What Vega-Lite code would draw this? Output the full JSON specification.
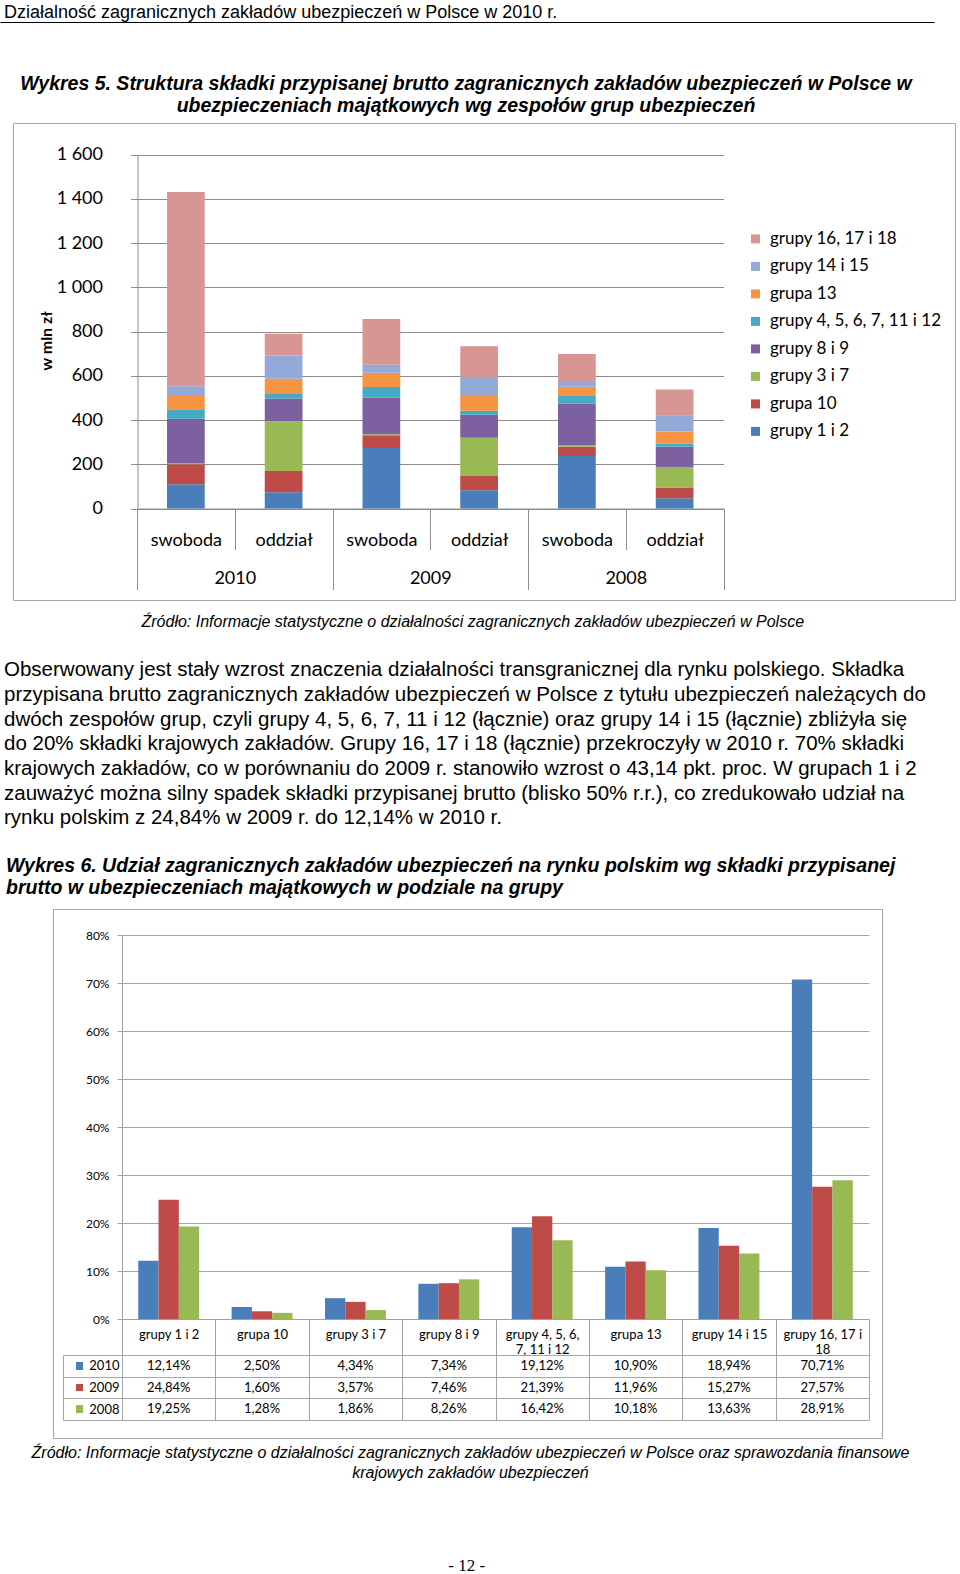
{
  "$schema": "https://vega.github.io/schema/vega-lite/v6.json",
  "padding": {"left": 0, "top": 3, "right": 0, "bottom": 0},
  "background": "white",
  "spacing": 30,
  "config": {
    "locale": {"number": {"decimal": ",", "thousands": " ", "grouping": [3], "currency": ["", " zł"]}},
    "title": {"font": "Liberation Sans", "color": "#000", "fontWeight": "normal"}
  },
  "datasets": {
    "wykres5": [
      {"rok": "2010", "slupek": "swoboda 2010", "grupa": "grupy 1 i 2", "kolejnosc": 1, "wartosc": 110},
      {"rok": "2010", "slupek": "swoboda 2010", "grupa": "grupa 10", "kolejnosc": 2, "wartosc": 90},
      {"rok": "2010", "slupek": "swoboda 2010", "grupa": "grupy 3 i 7", "kolejnosc": 3, "wartosc": 4},
      {"rok": "2010", "slupek": "swoboda 2010", "grupa": "grupy 8 i 9", "kolejnosc": 4, "wartosc": 202},
      {"rok": "2010", "slupek": "swoboda 2010", "grupa": "grupy 4, 5, 6, 7, 11 i 12", "kolejnosc": 5, "wartosc": 43},
      {"rok": "2010", "slupek": "swoboda 2010", "grupa": "grupa 13", "kolejnosc": 6, "wartosc": 60},
      {"rok": "2010", "slupek": "swoboda 2010", "grupa": "grupy 14 i 15", "kolejnosc": 7, "wartosc": 43},
      {"rok": "2010", "slupek": "swoboda 2010", "grupa": "grupy 16, 17 i 18", "kolejnosc": 8, "wartosc": 878},
      {"rok": "2010", "slupek": "oddział 2010", "grupa": "grupy 1 i 2", "kolejnosc": 1, "wartosc": 74},
      {"rok": "2010", "slupek": "oddział 2010", "grupa": "grupa 10", "kolejnosc": 2, "wartosc": 96},
      {"rok": "2010", "slupek": "oddział 2010", "grupa": "grupy 3 i 7", "kolejnosc": 3, "wartosc": 224},
      {"rok": "2010", "slupek": "oddział 2010", "grupa": "grupy 8 i 9", "kolejnosc": 4, "wartosc": 103},
      {"rok": "2010", "slupek": "oddział 2010", "grupa": "grupy 4, 5, 6, 7, 11 i 12", "kolejnosc": 5, "wartosc": 21},
      {"rok": "2010", "slupek": "oddział 2010", "grupa": "grupa 13", "kolejnosc": 6, "wartosc": 69},
      {"rok": "2010", "slupek": "oddział 2010", "grupa": "grupy 14 i 15", "kolejnosc": 7, "wartosc": 104},
      {"rok": "2010", "slupek": "oddział 2010", "grupa": "grupy 16, 17 i 18", "kolejnosc": 8, "wartosc": 99},
      {"rok": "2009", "slupek": "swoboda 2009", "grupa": "grupy 1 i 2", "kolejnosc": 1, "wartosc": 274},
      {"rok": "2009", "slupek": "swoboda 2009", "grupa": "grupa 10", "kolejnosc": 2, "wartosc": 57},
      {"rok": "2009", "slupek": "swoboda 2009", "grupa": "grupy 3 i 7", "kolejnosc": 3, "wartosc": 5},
      {"rok": "2009", "slupek": "swoboda 2009", "grupa": "grupy 8 i 9", "kolejnosc": 4, "wartosc": 165},
      {"rok": "2009", "slupek": "swoboda 2009", "grupa": "grupy 4, 5, 6, 7, 11 i 12", "kolejnosc": 5, "wartosc": 48},
      {"rok": "2009", "slupek": "swoboda 2009", "grupa": "grupa 13", "kolejnosc": 6, "wartosc": 64},
      {"rok": "2009", "slupek": "swoboda 2009", "grupa": "grupy 14 i 15", "kolejnosc": 7, "wartosc": 37},
      {"rok": "2009", "slupek": "swoboda 2009", "grupa": "grupy 16, 17 i 18", "kolejnosc": 8, "wartosc": 206},
      {"rok": "2009", "slupek": "oddział 2009", "grupa": "grupy 1 i 2", "kolejnosc": 1, "wartosc": 83},
      {"rok": "2009", "slupek": "oddział 2009", "grupa": "grupa 10", "kolejnosc": 2, "wartosc": 64},
      {"rok": "2009", "slupek": "oddział 2009", "grupa": "grupy 3 i 7", "kolejnosc": 3, "wartosc": 173},
      {"rok": "2009", "slupek": "oddział 2009", "grupa": "grupy 8 i 9", "kolejnosc": 4, "wartosc": 104},
      {"rok": "2009", "slupek": "oddział 2009", "grupa": "grupy 4, 5, 6, 7, 11 i 12", "kolejnosc": 5, "wartosc": 18},
      {"rok": "2009", "slupek": "oddział 2009", "grupa": "grupa 13", "kolejnosc": 6, "wartosc": 67},
      {"rok": "2009", "slupek": "oddział 2009", "grupa": "grupy 14 i 15", "kolejnosc": 7, "wartosc": 85},
      {"rok": "2009", "slupek": "oddział 2009", "grupa": "grupy 16, 17 i 18", "kolejnosc": 8, "wartosc": 139},
      {"rok": "2008", "slupek": "swoboda 2008", "grupa": "grupy 1 i 2", "kolejnosc": 1, "wartosc": 237},
      {"rok": "2008", "slupek": "swoboda 2008", "grupa": "grupa 10", "kolejnosc": 2, "wartosc": 42},
      {"rok": "2008", "slupek": "swoboda 2008", "grupa": "grupy 3 i 7", "kolejnosc": 3, "wartosc": 6},
      {"rok": "2008", "slupek": "swoboda 2008", "grupa": "grupy 8 i 9", "kolejnosc": 4, "wartosc": 188},
      {"rok": "2008", "slupek": "swoboda 2008", "grupa": "grupy 4, 5, 6, 7, 11 i 12", "kolejnosc": 5, "wartosc": 36},
      {"rok": "2008", "slupek": "swoboda 2008", "grupa": "grupa 13", "kolejnosc": 6, "wartosc": 41},
      {"rok": "2008", "slupek": "swoboda 2008", "grupa": "grupy 14 i 15", "kolejnosc": 7, "wartosc": 22},
      {"rok": "2008", "slupek": "swoboda 2008", "grupa": "grupy 16, 17 i 18", "kolejnosc": 8, "wartosc": 126},
      {"rok": "2008", "slupek": "oddział 2008", "grupa": "grupy 1 i 2", "kolejnosc": 1, "wartosc": 46},
      {"rok": "2008", "slupek": "oddział 2008", "grupa": "grupa 10", "kolejnosc": 2, "wartosc": 49},
      {"rok": "2008", "slupek": "oddział 2008", "grupa": "grupy 3 i 7", "kolejnosc": 3, "wartosc": 93},
      {"rok": "2008", "slupek": "oddział 2008", "grupa": "grupy 8 i 9", "kolejnosc": 4, "wartosc": 91},
      {"rok": "2008", "slupek": "oddział 2008", "grupa": "grupy 4, 5, 6, 7, 11 i 12", "kolejnosc": 5, "wartosc": 15},
      {"rok": "2008", "slupek": "oddział 2008", "grupa": "grupa 13", "kolejnosc": 6, "wartosc": 54},
      {"rok": "2008", "slupek": "oddział 2008", "grupa": "grupy 14 i 15", "kolejnosc": 7, "wartosc": 73},
      {"rok": "2008", "slupek": "oddział 2008", "grupa": "grupy 16, 17 i 18", "kolejnosc": 8, "wartosc": 117}
    ],
    "wykres6": [
      {"grupa": "grupy 1 i 2", "rok": "2010", "udzial": 0.1214},
      {"grupa": "grupy 1 i 2", "rok": "2009", "udzial": 0.2484},
      {"grupa": "grupy 1 i 2", "rok": "2008", "udzial": 0.1925},
      {"grupa": "grupa 10", "rok": "2010", "udzial": 0.025},
      {"grupa": "grupa 10", "rok": "2009", "udzial": 0.016},
      {"grupa": "grupa 10", "rok": "2008", "udzial": 0.0128},
      {"grupa": "grupy 3 i 7", "rok": "2010", "udzial": 0.0434},
      {"grupa": "grupy 3 i 7", "rok": "2009", "udzial": 0.0357},
      {"grupa": "grupy 3 i 7", "rok": "2008", "udzial": 0.0186},
      {"grupa": "grupy 8 i 9", "rok": "2010", "udzial": 0.0734},
      {"grupa": "grupy 8 i 9", "rok": "2009", "udzial": 0.0746},
      {"grupa": "grupy 8 i 9", "rok": "2008", "udzial": 0.0826},
      {"grupa": "grupy 4, 5, 6, 7, 11 i 12", "rok": "2010", "udzial": 0.1912},
      {"grupa": "grupy 4, 5, 6, 7, 11 i 12", "rok": "2009", "udzial": 0.2139},
      {"grupa": "grupy 4, 5, 6, 7, 11 i 12", "rok": "2008", "udzial": 0.1642},
      {"grupa": "grupa 13", "rok": "2010", "udzial": 0.109},
      {"grupa": "grupa 13", "rok": "2009", "udzial": 0.1196},
      {"grupa": "grupa 13", "rok": "2008", "udzial": 0.1018},
      {"grupa": "grupy 14 i 15", "rok": "2010", "udzial": 0.1894},
      {"grupa": "grupy 14 i 15", "rok": "2009", "udzial": 0.1527},
      {"grupa": "grupy 14 i 15", "rok": "2008", "udzial": 0.1363},
      {"grupa": "grupy 16, 17 i 18", "rok": "2010", "udzial": 0.7071},
      {"grupa": "grupy 16, 17 i 18", "rok": "2009", "udzial": 0.2757},
      {"grupa": "grupy 16, 17 i 18", "rok": "2008", "udzial": 0.2891}
    ]
  },
  "title": {"text": "- 12 -", "orient": "bottom", "anchor": "middle", "dx": -11, "offset": 77, "font": "Liberation Serif", "fontSize": 17, "fontWeight": "normal", "color": "#000"},
  "vconcat": [
    {
      "width": 934,
      "height": 20.8,
      "data": {"values": []},
      "mark": "rule",
      "encoding": {
        "x": {"field": "v", "type": "quantitative", "scale": {"domain": [0, 1]}, "axis": {"orient": "top", "domainColor": "#000", "ticks": false, "labels": false, "grid": false, "title": null}}
      },
      "view": {"stroke": null},
      "title": {"text": "Działalność zagranicznych zakładów ubezpieczeń w Polsce w 2010 r.", "orient": "top", "anchor": "start", "dx": 4, "offset": 0.5, "font": "Liberation Sans", "fontSize": 18, "fontWeight": "normal", "color": "#000"}
    },
    {
      "hconcat": [
        {"width": 12, "height": 1, "data": {"values": []}, "mark": "rule", "encoding": {}, "view": {"stroke": null}},
        {
          "width": 942,
          "height": 477,
          "view": {"stroke": "#A6A6A6"},
          "title": {"text": ["Wykres 5. Struktura składki przypisanej brutto zagranicznych zakładów ubezpieczeń w Polsce w", "ubezpieczeniach majątkowych wg zespołów grup ubezpieczeń"], "orient": "top", "anchor": "middle", "dx": -18, "offset": 6.2, "font": "Liberation Sans", "fontSize": 19.5, "fontWeight": "bold", "fontStyle": "italic", "lineHeight": 22, "color": "#000"},
          "data": {"name": "wykres5"},
          "layer": [
            {
              "mark": {"type": "bar", "width": {"band": 0.386}},
              "encoding": {
                "x": {
                  "field": "slupek", "type": "nominal",
                  "sort": ["swoboda 2010", "oddział 2010", "swoboda 2009", "oddział 2009", "swoboda 2008", "oddział 2008"],
                  "scale": {"range": [124, 710.5], "paddingInner": 0, "paddingOuter": 0},
                  "axis": {"orient": "bottom", "offset": -91.5, "domainColor": "#8C8C8C", "tickColor": "#8C8C8C", "tickBand": "extent", "tickSize": 41, "labelExpr": "split(datum.label, ' ')[0]", "labelAngle": 0, "labelFont": "Lato", "labelFontSize": 18, "labelColor": "#000", "labelBaseline": "middle", "labelPadding": -9.3, "title": null, "grid": false}
                },
                "y": {
                  "field": "wartosc", "type": "quantitative", "title": "w mln zł",
                  "scale": {"domain": [0, 1600], "range": [385.5, 31.5], "nice": false},
                  "axis": {"orient": "left", "offset": -124.5, "values": [0, 200, 400, 600, 800, 1000, 1200, 1400, 1600], "format": ",d", "grid": true, "gridColor": "#8C8C8C", "domainColor": "#8C8C8C", "tickColor": "#8C8C8C", "tickSize": 7, "labelFont": "Lato", "labelFontSize": 18, "labelColor": "#000", "labelPadding": 28, "titleFont": "Lato", "titleFontSize": 16, "titleFontWeight": "bold", "titleColor": "#000", "titlePadding": 2, "titleY": 217.5}
                },
                "color": {
                  "field": "grupa", "type": "nominal",
                  "scale": {
                    "domain": ["grupy 1 i 2", "grupa 10", "grupy 3 i 7", "grupy 8 i 9", "grupy 4, 5, 6, 7, 11 i 12", "grupa 13", "grupy 14 i 15", "grupy 16, 17 i 18"],
                    "range": ["#4A7EBB", "#BE4B48", "#98B954", "#7D60A0", "#46AAC5", "#F59443", "#93A9D7", "#D79593"]
                  },
                  "legend": {"orient": "none", "legendX": 747, "legendY": 208.4, "title": null, "values": ["grupy 16, 17 i 18", "grupy 14 i 15", "grupa 13", "grupy 4, 5, 6, 7, 11 i 12", "grupy 8 i 9", "grupy 3 i 7", "grupa 10", "grupy 1 i 2"], "symbolType": "square", "symbolSize": 81, "symbolStrokeWidth": 0, "labelFont": "Lato", "labelFontSize": 17, "labelColor": "#000", "labelOffset": 6, "rowPadding": 9.5, "padding": 0, "labelLimit": 0}
                },
                "order": {"field": "kolejnosc", "type": "quantitative"}
              }
            },
            {
              "mark": {"type": "point", "opacity": 0},
              "encoding": {
                "x": {
                  "field": "rok", "type": "nominal", "sort": ["2010", "2009", "2008"],
                  "scale": {"range": [124, 710.5], "paddingInner": 0, "paddingOuter": 0},
                  "axis": {"orient": "bottom", "offset": -91.5, "domain": false, "tickColor": "#8C8C8C", "tickBand": "extent", "tickSize": 81, "labelAngle": 0, "labelFont": "Lato", "labelFontSize": 18, "labelColor": "#000", "labelBaseline": "middle", "labelPadding": -11.3, "title": null, "grid": false}
                },
                "y": {"field": "wartosc", "type": "quantitative", "title": "w mln zł"}
              }
            }
          ],
          "resolve": {"scale": {"x": "independent"}}
        }
      ],
      "spacing": 0,
      "title": {"text": "Źródło: Informacje statystyczne o działalności zagranicznych zakładów ubezpieczeń w Polsce", "orient": "bottom", "anchor": "middle", "dx": -5, "offset": 13, "font": "Liberation Sans", "fontSize": 16, "fontStyle": "italic", "fontWeight": "normal", "color": "#000"}
    },
    {
      "vconcat": [
        {
          "hconcat": [
            {"width": 5, "height": 1, "data": {"values": []}, "mark": "rule", "encoding": {}, "view": {"stroke": null}},
            {
              "width": 829,
              "height": 529,
              "view": {"stroke": "#A6A6A6"},
              "title": {"text": ["Wykres 6. Udział zagranicznych zakładów ubezpieczeń na rynku polskim wg składki przypisanej", "brutto w ubezpieczeniach majątkowych w podziale na grupy"], "orient": "top", "anchor": "start", "dx": -47, "offset": 4.1, "font": "Liberation Sans", "fontSize": 19.5, "fontWeight": "bold", "fontStyle": "italic", "lineHeight": 22, "color": "#000"},
              "data": {"name": "wykres6"},
              "layer": [
                {
                  "mark": "bar",
                  "encoding": {
                    "x": {
                      "field": "grupa", "type": "nominal",
                      "sort": ["grupy 1 i 2", "grupa 10", "grupy 3 i 7", "grupy 8 i 9", "grupy 4, 5, 6, 7, 11 i 12", "grupa 13", "grupy 14 i 15", "grupy 16, 17 i 18"],
                      "scale": {"range": [69, 816], "paddingInner": 0, "paddingOuter": 0},
                      "axis": {"orient": "bottom", "offset": -119, "domainColor": "#A0A0A0", "tickColor": "#A0A0A0", "tickBand": "extent", "tickSize": 36, "labelExpr": "datum.label == 'grupy 4, 5, 6, 7, 11 i 12' ? ['grupy 4, 5, 6,', '7, 11 i 12'] : datum.label == 'grupy 16, 17 i 18' ? ['grupy 16, 17 i', '18'] : datum.label", "labelAngle": 0, "labelFont": "Lato", "labelFontSize": 13, "labelColor": "#000", "labelBaseline": "middle", "labelPadding": -21, "labelLineHeight": 15, "labelLimit": 0, "labelOverlap": false, "title": null, "grid": false}
                    },
                    "xOffset": {"field": "rok", "type": "nominal", "sort": ["2010", "2009", "2008"], "scale": {"paddingInner": 0, "paddingOuter": 0.8}},
                    "y": {
                      "field": "udzial", "type": "quantitative",
                      "scale": {"domain": [0, 0.8], "range": [410, 26], "nice": false},
                      "axis": {"orient": "left", "offset": -69, "values": [0, 0.1, 0.2, 0.3, 0.4, 0.5, 0.6, 0.7, 0.8], "format": ".0%", "grid": true, "gridColor": "#A6A6A6", "domainColor": "#A0A0A0", "tickColor": "#A0A0A0", "tickSize": 5, "labelFont": "Lato", "labelFontSize": 12, "labelColor": "#000", "labelPadding": 8, "title": null}
                    },
                    "color": {
                      "field": "rok", "type": "nominal",
                      "scale": {"domain": ["2010", "2009", "2008"], "range": ["#4F81BD", "#C0504D", "#9BBB59"]},
                      "legend": null
                    }
                  }
                },
                {
                  "mark": {"type": "text", "font": "Lato", "fontSize": 13, "color": "#000"},
                  "encoding": {
                    "x": {
                      "field": "grupa", "type": "nominal",
                      "sort": ["grupy 1 i 2", "grupa 10", "grupy 3 i 7", "grupy 8 i 9", "grupy 4, 5, 6, 7, 11 i 12", "grupa 13", "grupy 14 i 15", "grupy 16, 17 i 18"],
                      "scale": {"range": [69, 816], "paddingInner": 0, "paddingOuter": 0},
                      "axis": {"orient": "top", "grid": true, "tickBand": "extent", "gridColor": "#A6A6A6", "domain": false, "ticks": false, "labels": false, "title": null}
                    },
                    "y": {
                      "field": "rok", "type": "nominal", "sort": ["2010", "2009", "2008"],
                      "scale": {"range": [446, 511], "paddingInner": 0, "paddingOuter": 0},
                      "axis": {"orient": "left", "offset": -69, "grid": true, "tickBand": "extent", "gridColor": "#A6A6A6", "domainColor": "#A6A6A6", "tickColor": "#A6A6A6", "tickSize": 59, "labels": true, "labelAlign": "right", "labelBaseline": "middle", "labelPadding": -56, "labelFont": "Lato", "labelFontSize": 13, "labelColor": "#000", "title": null}
                    },
                    "text": {"field": "udzial", "type": "quantitative", "format": ".2%"}
                  }
                },
                {
                  "mark": {"type": "square", "size": 49, "opacity": 1},
                  "encoding": {
                    "x": {"datum": "klucz", "type": "nominal", "scale": {"range": [23, 30], "paddingInner": 0, "paddingOuter": 0}, "axis": null},
                    "y": {
                      "field": "rok", "type": "nominal", "sort": ["2010", "2009", "2008"],
                      "scale": {"range": [446, 511], "paddingInner": 0, "paddingOuter": 0},
                      "axis": {"orient": "left", "offset": -10, "domainColor": "#A6A6A6", "ticks": false, "labels": false, "grid": false, "title": null}
                    },
                    "color": {"field": "rok", "type": "nominal", "legend": null}
                  }
                }
              ],
              "resolve": {"scale": {"x": "independent", "y": "independent"}}
            }
          ],
          "spacing": 0,
          "title": {"text": ["Obserwowany jest stały wzrost znaczenia działalności transgranicznej dla rynku polskiego. Składka", "przypisana brutto zagranicznych zakładów ubezpieczeń w Polsce z tytułu ubezpieczeń należących do", "dwóch zespołów grup, czyli grupy 4, 5, 6, 7, 11 i 12 (łącznie) oraz grupy 14 i 15 (łącznie) zbliżyła się", "do 20% składki krajowych zakładów. Grupy 16, 17 i 18 (łącznie) przekroczyły w 2010 r. 70% składki", "krajowych zakładów, co w porównaniu do 2009 r. stanowiło wzrost o 43,14 pkt. proc. W grupach 1 i 2", "zauważyć można silny spadek składki przypisanej brutto (blisko 50% r.r.), co zredukowało udział na", "rynku polskim z 24,84% w 2009 r. do 12,14% w 2010 r."], "orient": "top", "anchor": "start", "dx": 4, "offset": 27, "font": "Liberation Sans", "fontSize": 20.5, "lineHeight": 24.7, "fontWeight": "normal", "color": "#000"}
        }
      ],
      "title": {"text": ["Źródło: Informacje statystyczne o działalności zagranicznych zakładów ubezpieczeń w Polsce oraz sprawozdania finansowe", "krajowych zakładów ubezpieczeń"], "orient": "bottom", "anchor": "middle", "dx": 7.5, "offset": 6, "lineHeight": 20, "font": "Liberation Sans", "fontSize": 16, "fontStyle": "italic", "fontWeight": "normal", "color": "#000"}
    }
  ]
}
